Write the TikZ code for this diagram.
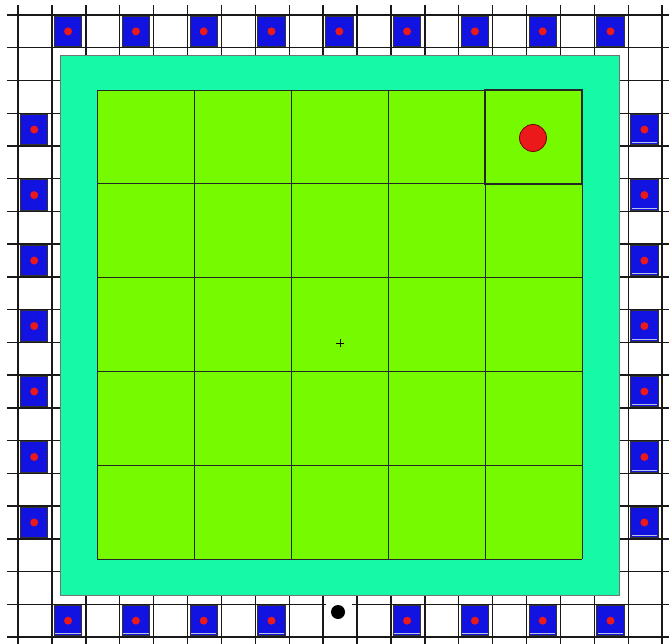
\documentclass[tikz,border=0pt]{standalone}
\begin{document}
\definecolor{tealfill}{RGB}{22,250,168}
\definecolor{grass}{RGB}{118,250,0}
\definecolor{tileblue}{RGB}{18,18,225}
\definecolor{dotred}{RGB}{235,25,25}
\definecolor{stripe}{RGB}{185,195,225}
\tikzset{
  gridline/.style={draw=black!90, line width=1.4pt},
  tilebox/.style={fill=tileblue, draw=black!80, line width=0.9pt},
  tiledot/.style={fill=dotred},
  fieldline/.style={draw=black!85, line width=0.8pt}
}
\newcommand\drawtile[3]{%
  \pgfmathsetmacro\xa{18+33.9*#1+2.5}%
  \pgfmathsetmacro\xb{18+33.9*(#1+1)-4}%
  \pgfmathsetmacro\ya{15+32.74*#2+1.2}%
  \pgfmathsetmacro\yb{15+32.74*(#2+1)-1.2}%
  \filldraw[tilebox] (\xa,\ya) rectangle (\xb,\yb);
  \ifnum#3=1 \draw[stripe, line width=1.2pt] ({\xa+1},{\yb-2}) -- ({\xb-1},{\yb-2});\fi
  \fill[tiledot] ({(\xa+\xb)/2},{(\ya+\yb)/2}) circle (4pt);
}
\begin{tikzpicture}[x=1pt,y=-1pt]
\fill[white] (0,0) rectangle (669,644);
\useasboundingbox (0,0) rectangle (669,644);
% outer grid
\foreach \k in {0,...,19} \draw[gridline] ({18+33.9*\k},5) -- ({18+33.9*\k},644);
\foreach \j in {0,...,19} \draw[gridline] (7,{15+32.74*\j}) -- (669,{15+32.74*\j});
% blue tiles
\foreach \k in {1,3,...,17} {\drawtile{\k}{0}{0}}
\foreach \k in {1,3,5,7,11,13,15,17} {\drawtile{\k}{18}{1}}
\foreach \j in {3,5,...,15} {\drawtile{0}{\j}{0}\drawtile{18}{\j}{1}}
% teal border area
\filldraw[fill=tealfill, draw=black!55, line width=0.8pt] (60,55) rectangle (619,595);
% green field
\fill[grass] (97,90) rectangle (582,559);
\foreach \i in {0,...,5} {
  \draw[fieldline] ({97+97*\i},90) -- ({97+97*\i},559);
  \draw[fieldline] (97,{90+93.8*\i}) -- (582,{90+93.8*\i});
}
% highlighted cell
\draw[draw=black!85, line width=2pt] (485,90) rectangle (582,183.8);
\filldraw[fill=dotred, draw=red!45!black, line width=0.8pt] (533,138) circle (13.5pt);
% centre mark
\draw[black, line width=0.7pt] (336,343) -- (344,343) (340,339) -- (340,347);
% black dot at bottom
\draw[white, line width=3pt] (325.5,603.6) -- (352,603.6);
\fill[black] (338,612) circle (7pt);
\end{tikzpicture}
\end{document}
